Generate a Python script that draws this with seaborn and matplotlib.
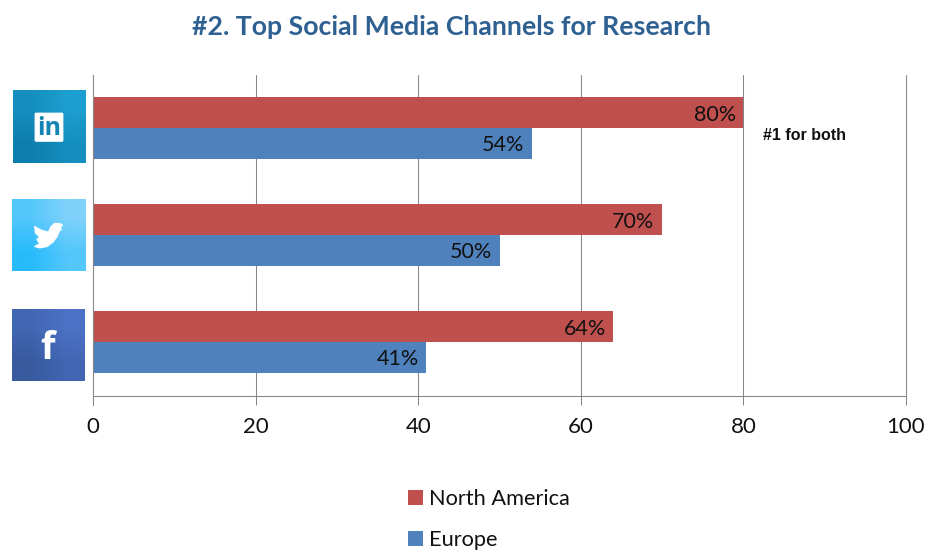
import matplotlib
matplotlib.use("Agg")
import matplotlib.pyplot as plt
from matplotlib.colors import to_rgb
from matplotlib.patches import FancyBboxPatch, Polygon
import numpy as np
import pandas as pd
import seaborn as sns

channels = ["LinkedIn", "Twitter", "Facebook"]
north_america = [80, 70, 64]
europe = [54, 50, 41]
x_ticks = [0, 20, 40, 60, 80, 100]
series_names = ["North America", "Europe"]
series_colors = ["#c0504d", "#4f81bd"]

W, H = 944, 551


def fig_box(x0, y0, x1, y1):
    # pixel box (top-left origin) to figure fractions
    return [x0 / W, 1 - y1 / H, (x1 - x0) / W, (y1 - y0) / H]


def add_icon(box, low, high):
    """Square with a diagonal gradient, lower-left to upper-right"""
    ax_i = fig.add_axes(fig_box(*box))
    a, b = np.array(to_rgb(low)), np.array(to_rgb(high))
    img = np.array([[(a + b) / 2, b], [a, (a + b) / 2]])
    ax_i.imshow(img, extent=(0, 1, 0, 1), interpolation="bilinear", aspect="auto")
    ax_i.set_xlim(0, 1)
    ax_i.set_ylim(0, 1)
    ax_i.axis("off")
    return ax_i


sns.set_theme(style="white")
plt.rcParams["font.family"] = ["Lato", "DejaVu Sans"]

df = pd.DataFrame(
    {
        "channel": channels * 2,
        "share": north_america + europe,
        "region": [series_names[0]] * 3 + [series_names[1]] * 3,
    }
)

fig = plt.figure(figsize=(W / 100, H / 100), dpi=100)
ax = fig.add_axes(fig_box(93, 74.5, 906, 395.5))

sns.barplot(
    data=df,
    y="channel",
    x="share",
    hue="region",
    order=channels,
    hue_order=series_names,
    palette=series_colors,
    saturation=1,
    width=0.575,
    gap=0,
    linewidth=0,
    ax=ax,
)

ax.set_xlim(0, 100)
ax.set_ylim(2.5, -0.5)
ax.set_xticks(x_ticks)
ax.set_yticks([])
ax.set_xlabel("")
ax.set_ylabel("")
ax.set_axisbelow(True)
ax.grid(axis="x", color="#868686", lw=0.75, clip_on=False)
ax.tick_params(axis="x", bottom=True, length=6.5, width=0.75, color="#868686",
               labelsize=16, labelcolor="#111111", pad=9)
for side in ["top", "right"]:
    ax.spines[side].set_visible(False)
for side in ["left", "bottom"]:
    ax.spines[side].set_visible(True)
    ax.spines[side].set_color("#868686")
    ax.spines[side].set_linewidth(0.75)
ax.spines["left"].set_bounds(2.585, -0.5)
ax.spines["left"].set_clip_on(False)

for container in ax.containers:
    labels = ax.bar_label(container, fmt="%d%%", padding=-5.5, fontsize=15.5, color="#111111")
    for label in labels:
        label.set_ha("right")
        label.xyann = (label.xyann[0], -1.5)

ax.text(82.4, 0.07, "#1 for both", family="Liberation Sans", fontsize=11.5,
        fontweight="bold", color="#111111", va="center", ha="left")

fig.text(452 / W, 1 - 27 / H, "#2. Top Social Media Channels for Research",
         fontsize=19.2, fontweight="bold", color="#2e6092", ha="center", va="center")

legend = ax.legend(
    loc="upper left",
    bbox_to_anchor=(408 / W, 1 - 489 / H),
    bbox_transform=fig.transFigure,
    frameon=False,
    ncol=1,
    fontsize=15.7,
    labelspacing=0.95,
    handlelength=0.69,
    handleheight=0.69,
    handletextpad=0.28,
    borderpad=0,
    borderaxespad=0,
)
for text in legend.get_texts():
    text.set_color("#111111")

# channel icons
ax_in = add_icon((13, 90, 85, 163), "#0e7eae", "#1c9fd0")
ax_in.add_patch(FancyBboxPatch((0.31, 0.30), 0.38, 0.38, boxstyle="round,pad=0.01,rounding_size=0.02",
                               fc="white", ec="none", transform=ax_in.transAxes))
ax_in.text(0.50, 0.475, "in", color="#1384b4", fontsize=18, fontweight="bold",
           family="Open Sans", ha="center", va="center", transform=ax_in.transAxes)

ax_tw = add_icon((12, 199, 85, 271), "#27bbfb", "#80d2fb")
bird_x = [0.31, 0.36, 0.42, 0.50, 0.53, 0.58, 0.65, 0.69, 0.66, 0.68, 0.65, 0.62, 0.56, 0.48, 0.38, 0.31,
          0.38, 0.34, 0.38, 0.32]
bird_y = [0.62, 0.59, 0.56, 0.54, 0.61, 0.66, 0.66, 0.64, 0.60, 0.58, 0.56, 0.48, 0.40, 0.34, 0.32, 0.34,
          0.38, 0.44, 0.47, 0.53]
ax_tw.add_patch(Polygon(np.column_stack([bird_x, bird_y]), closed=True, fc="white", ec="white",
                        lw=0.8, joinstyle="round", transform=ax_tw.transAxes))

ax_fb = add_icon((12, 309, 84, 381), "#375a9f", "#4c72c6")
ax_fb.text(0.49, 0.44, "f", color="white", fontsize=27, fontweight="bold",
           family="Open Sans", ha="center", va="center", transform=ax_fb.transAxes)

fig.savefig("out.png", dpi=100)
